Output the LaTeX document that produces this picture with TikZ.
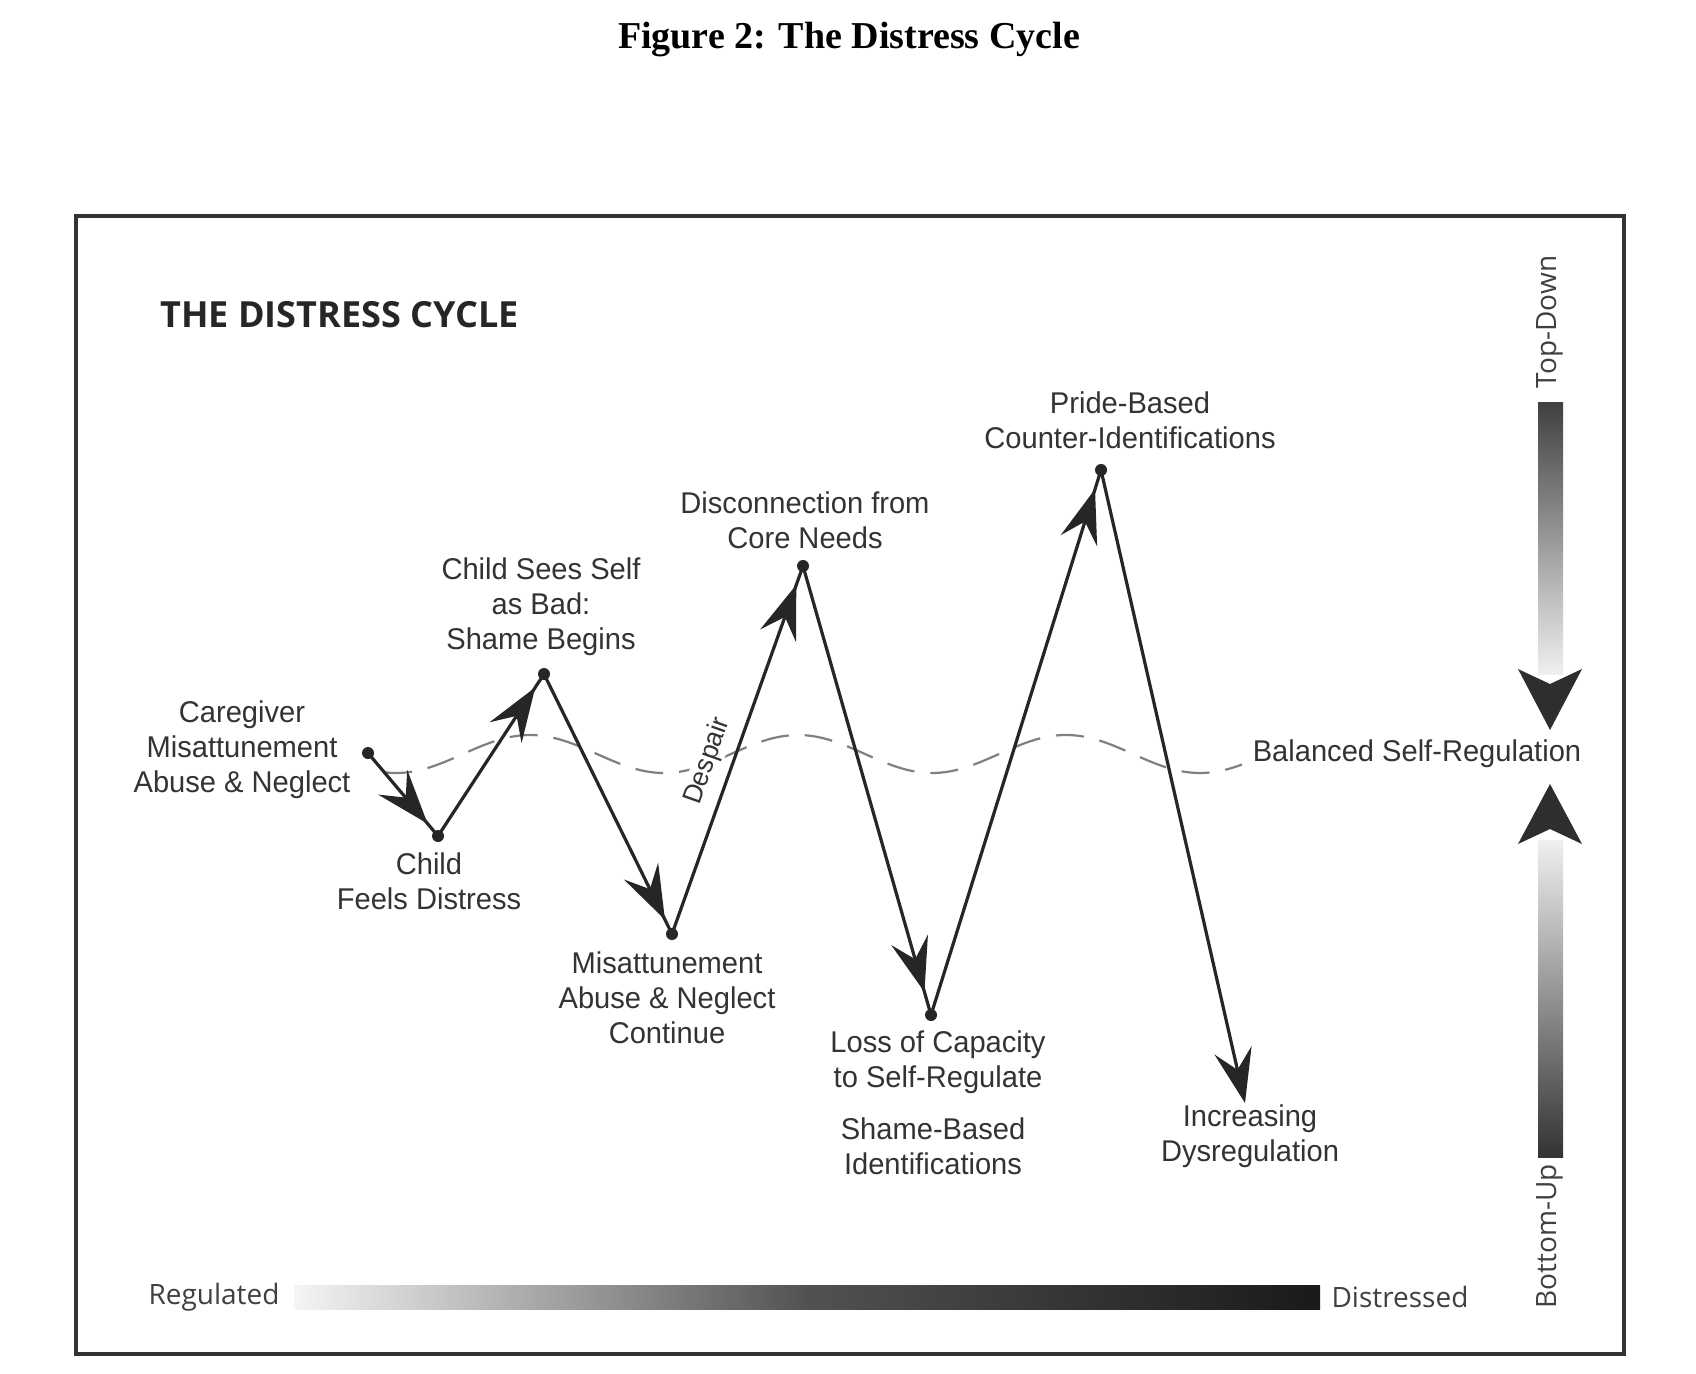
\documentclass[tikz,border=0pt]{standalone}
\usepackage{fontspec}
\usepackage{tikz}
\usetikzlibrary{arrows.meta,decorations.markings}
\setmainfont{Liberation Sans}
\newfontfamily\capfont{Liberation Serif}
\newfontfamily\lblfont[FakeStretch=0.97]{Liberation Sans}
\newfontfamily\headfont{Open Sans}

\tikzset{
  dot/.style={circle, fill=black!85, inner sep=0pt, minimum size=6pt},
  lbl/.style={align=center, text=black!80, font=\lblfont\fontsize{15}{17.5}\selectfont},
  side/.style={text=black!75, font=\headfont\fontsize{14}{16}\selectfont},
  seg/.style={line width=1.6pt, draw=black!85, postaction={decorate},
    decoration={markings, mark=at position -#1 with {\arrow[black!85]{Stealth[length=27pt,width=19pt,inset=10pt]}}}},
  seg/.default=8pt,
  segend/.style={line width=1.6pt, draw=black!85, -{Stealth[length=27pt,width=19pt,inset=10pt]}},
  wave/.style={line width=1.1pt, draw=black!50, dash pattern=on 14pt off 8pt}
}

\begin{document}
\begin{tikzpicture}[x=0.5pt, y=-0.5pt]
\useasboundingbox (0,0) rectangle (1696,1374);
\fill[white] (0,0) rectangle (1696,1374);

\node[font=\capfont\bfseries\fontsize{19}{22}\selectfont] (caption) at (849,40) {Figure 2: The Distress Cycle};
\draw[line width=2pt, draw=black!80] (76,216) rectangle (1624,1354);
\node[anchor=west, inner sep=0pt, text=black!85, font=\headfont\bfseries\fontsize{18}{21}\selectfont] (title) at (160,315) {THE DISTRESS CYCLE};

\shade[left color=black!4, right color=black!90, middle color=black!68] (294,1285) rectangle (1320,1309);
\node[side] (regulated) at (214,1297) {Regulated};
\node[side] (distressed) at (1400,1297) {Distressed};

\shade[top color=black!75, bottom color=black!6] (1538,402) rectangle (1563,674);
\shade[top color=black!6, bottom color=black!80] (1538,840) rectangle (1563,1157);
\fill[black!82] (1518,669) -- (1550,684) -- (1582,669) -- (1550,730) -- cycle;
\fill[black!82] (1518,844) -- (1550,829) -- (1582,844) -- (1550,784) -- cycle;
\node[side, rotate=90] (topdown) at (1550,322) {Top-Down};
\node[side, rotate=90] (bottomup) at (1550,1236) {Bottom-Up};

\draw[wave] plot[domain=384:1242, samples=160, smooth] (\x,{754-19*cos(1.34328*(\x-530))});
\node[lbl] (balanced) at (1417,754) {Balanced Self-Regulation};

\node[dot] (P0) at (368,753) {};
\node[dot] (P1) at (438,836) {};
\node[dot] (P2) at (544,674) {};
\node[dot] (P3) at (672,934) {};
\node[dot] (P4) at (803,566) {};
\node[dot] (P5) at (931,1015) {};
\node[dot] (P6) at (1101,470) {};
\coordinate (P7) at (1245,1103);

\node[lbl, rotate=70.5, fill=white, inner sep=1pt, font=\lblfont\fontsize{13.5}{16}\selectfont] (despair) at (708,761) {Despair};

\draw[seg] (P0.center) -- (P1.center);
\draw[seg] (P1.center) -- (P2.center);
\draw[seg] (P2.center) -- (P3.center);
\draw[seg=10pt] (P3.center) -- (P4.center);
\draw[seg=12pt] (P4.center) -- (P5.center);
\draw[seg=10pt] (P5.center) -- (P6.center);
\draw[segend] (P6.center) -- (P7);

\node[lbl] (caregiver) at (242,750) {Caregiver\\Misattunement\\Abuse \& Neglect};
\node[lbl] (feels) at (429,881) {Child\\Feels Distress};
\node[lbl] (shame) at (541,607) {Child Sees Self\\as Bad:\\Shame Begins};
\node[lbl] (continue) at (667,998) {Misattunement\\Abuse \& Neglect\\Continue};
\node[lbl] (disconnect) at (805,520) {Disconnection from\\Core Needs};
\node[lbl] (loss) at (938,1062) {Loss of Capacity\\to Self-Regulate};
\node[lbl] (shamebased) at (933,1146) {Shame-Based\\Identifications};
\node[lbl] (pride) at (1130,420) {Pride-Based\\Counter-Identifications};
\node[lbl] (increasing) at (1250,1136) {Increasing\\Dysregulation};
\end{tikzpicture}
\end{document}
